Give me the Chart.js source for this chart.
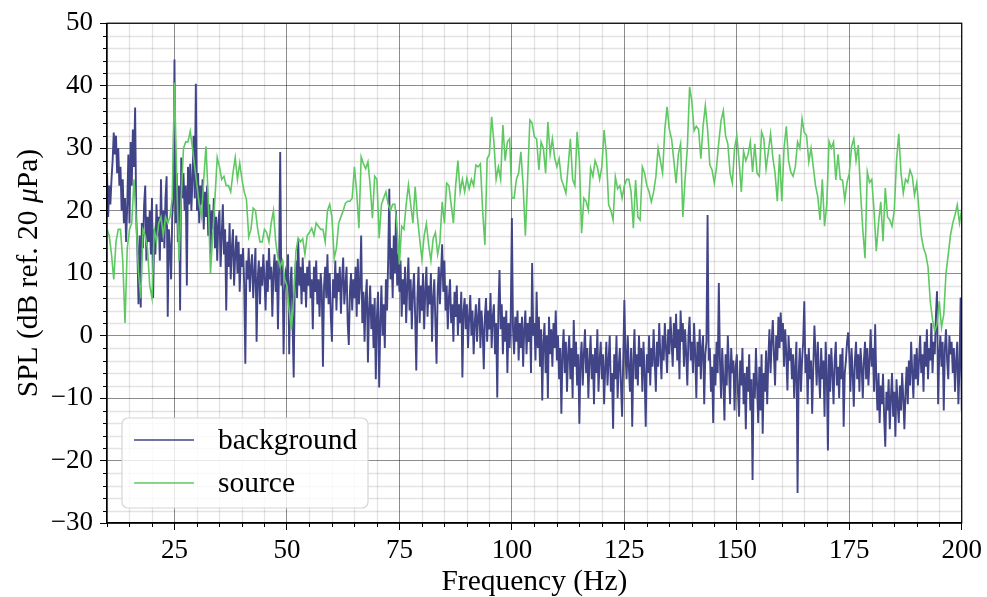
<!DOCTYPE html>
<html><head><meta charset="utf-8">
<script src="https://cdn.jsdelivr.net/npm/chart.js@4.4.1/dist/chart.umd.min.js"></script>
<style>html,body{margin:0;padding:0;background:#fff;}#wrap{width:987px;height:597px;}</style>
</head><body><div id="wrap"><canvas id="c" width="987" height="597"></canvas></div>
<script>
// ---- data ----
const bgStart = 10, bgStep = 0.25;   // Hz sampling of the background spectrum
const background = [
26,19,24,21,25,28,32.5,29,32,26,30,24,27,20,25,18,22,15,21,29,
18,31,24,33,27,36.5,19,14,5,16,4.5,18,14,21,24,12,19,15,20,13,
22,6,17,13,21,16,19,12,25,15,20,14,22,25.5,3,17,14,9,19,22,
44.2,18,26,15,24,4,28.5,22,26,20,24,8,27,21,27.5,20,25,32,22,40.3,
20,26,18,24,21,25,17,23,19,24,16,21,13,20,17,22,14,19,12,18,
20,11,16,21,13,17,4,15,11,18,9,14,17,8,13,16,10,15,7,13,
11,14,8,-4.5,12,9,14,7,11,13,6,10,14,-1,9,12,5,11,8,13,
9,4,12,7,14,9,11,3,10,13,7,12,1,11,29.4,8,12,-3,7,10,
9,13,-3,8,11,2,-6.7,9,12,6,15.5,8,11,5,12.5,7,10,4.5,11,8,
12,6,9,1,11,7,12,5,9,3,10,7,-5,8,11,6,13,5,10,3,
-1,9,6,12,4,10,7,11,3.5,9,12.5,5,8,11,2,-1.5,7,10,4,9,
6,11,3,12.3,5,8,16,2,7,-1,6,9,-4.3,4,8,1,5,-2,6,-7,
3,7,-8.3,2,8,0,5,-2,9,4,12,23.5,9,14,6,16,10,20,8,13,
7,12,3,9,5,11,2,8,12.5,4,9,1,7,10,3,-5.6,6,11,2,8,
4,10,1,7,11,3,8,5,10,-1,6,9,2,-4.5,7,11,5,10,14.6,7,
12,4,8,1,6,9,2,5,-1,7,3,8,0,5,2,7,-6.7,4,6,1,
5,-2,3,6.5,0,4,-3,2,5,-1,3,6,-2,4,1,-5.4,3,6,-1,4,
1,6.8,-2,3,5,-3,2,-9.9,4,10.5,1,5,-3,3,-1,4,-6,2,-2,3,
18.8,1,-3,3,-1,4,-4,2,-2,3,-5,1,4,-3,2,-1,3,-6,11.6,0,
2,-4,7,-2,3,-5,1,-10.4,-1,2,-6,0,-10,3,-3,1,-5,2,-2,4,
-4,0,-7,-2,-12.5,-3,1,-6,-1,-9,-3,0,-7,-2,-10,2.5,-5,-1,-8,-3,
-14.1,-4,-1,-8,-3,1,-6,-2,-10,-4,0,-7,-3,-11,-2,-6,1,-9,-4,-1,
-7,-3,-11,-5,-1,-8,-4,0,-9,-6,-14.9,-3,-7,0,-10,-5,-2,-8,-13,-4,
5.7,-3,-7,0,-5,-9,-2,-14.6,-4,1,-7,-3,-8,0,-5,-2,-9,-1,-6,-14.6,
-3,-6,0,-8,-2,-5,1,-4,-9,-1,-5,2,-3,-7,0,-4,2,-2,-6,1,
-3,3,-1,-5,2,-2,3.5,-4,1,-7,4,-1,2,-5,1,-3,-8,0,3,-4,
-1,-6,2,-3,-10,-1,-5,1,-7,-2,0,-11,-3,-1,19.3,-4,-2,-9,-5,-14,
-3,-8,-1,-6,8.4,-4,-10,-2,-7,-13.6,-3,-8,0,-5,-11,-2,-6,-4,-12,-5,
-3,-9,-13,-4,-8,-2,-11,-6,-15,-5,-9,-3,-12,-7,-23.1,-6,-10,-2,-8,-14,
-5,-12,-3,-15.7,-6,-9,-2.4,-11,-4,1,-6,-1,2.5,-3,-8,0,-4,3,-2,3.7,
-1,2,-5,1,-3,-8.8,0,-4,-2,-7,-3,-10,-5,-1,-25.2,-6,-2,-9,-4,-1,
5.5,-6,-3,-11,-2,-7,-4,-12.5,-5,1.6,-3,-8,-1,-6,-10,-2,-7,-4,-13,-1,
-6,-18.4,-3,-9,-2,-6,-11,-4,-1,-8,-5,-10,-3,-7,-2,-14.6,-6,-4,-1,0.5,
-3,-9,-2,-6,-11.4,-4,-1,-7,-3,-9,-2,-5,-10,-4,-1,-7,-2,-8,-4,1,
-5,-2,-9,1.8,-7,-12,-6,-14,-8,-11,-6.1,-13,-17.8,-9,-12,-7,-15,-10,-6,-13,
-9,-16.2,-7,-11,-14,-8,-12,-6,-10,-15,-9,-5,-11,-4,-8,-1,-6,-10,-3,-7,
-2,-8,-4,0,-6,-3,-9,-1,-5,1,-7,-2,-4,2,-6,-1,-3,3,7.1,-11,
-3,0,-5,-1,-12,-2,1,-4,-7,0,-3,-1,-6,-2,-9,-4,-1,-11,-5,6.1,-12
];
const srcStart = 10, srcStep = 0.5;  // Hz sampling of the source spectrum
const source = [
17,16,13,9,15,17,17,12,2,14,
17,18,25,18,10,6,17,16,14,8,
6,17,15,18,19,16,19,18,19,22,
40.5,25,12,22,30,31,31,32.7,30,27,
24,21,19,25,30.3,22,10,16,22,28.5,
27,25,25.5,24,24,23,26,28.5,25,27.6,
25,23,21.8,15.8,17,20.4,20,17,15,15,
17,16.5,15,18,20,15,12.5,11,12,9,
8,4,1,6,13.5,15.6,15,15.5,13,16,
16.5,17.2,16,18,17.5,17,17,15,20,21,
19,12.4,14,18,19,20,21.2,21.5,21.5,22,
27,23,17.2,28.6,27.5,26.7,27.8,24,18.8,25.5,
25,15.6,21,22,23,21,20,21,21,17,
11.4,17.5,17,21,24.1,21,18,23.8,19,15.5,
12.2,16,17.9,14.5,12,15.5,16.5,13,15,21.4,
18,24.4,24,21,18,24,28,23,25,23,
25.2,23.5,25,24,27.3,27,27.5,20,14.5,28.3,
29,35,31,25,27,25,33.7,28,31,31.5,
22,22,25,26,29.4,24,16,25,34.5,34,
31.8,31.5,26.5,31,30,26,34.2,29,31.5,28.5,
27,28.3,25,24,22.8,27,31.5,25,24,32.6,
28,16.4,22,21.5,20.1,26.8,25.5,28,27,25,
27,32.9,29,21,20,18.5,25.4,23.5,24,22,
24,25,25,23,17.2,24.9,19,18.5,27,26,
24,23,21.4,23,25.4,30,28,26,33,36.6,
33,31.5,28,24.4,29,30.7,19,25,30,39.8,
37.5,32.8,33.5,33,28.3,33.5,36.8,33,27.3,26.5,
24.4,27,31,34.4,36,32,30.7,26,24.4,30,
32,28,23,29.5,28,29,31,26.2,30.7,26,
25.5,32.6,31.5,26.7,29.4,32.3,28.5,26,21.5,29,
21.5,30,33.5,28,26.2,25.5,27,31,30,34.7,
32.5,32,27.8,30,27,24,22.2,18.5,25,17.5,
21,31.1,30,31,24.9,29,25,24.9,21.7,24.5,
26,30.2,31.5,28,30.5,23,17,12.4,26.2,24.5,
25,20,13.5,18,21.4,15.1,23.6,19,18.5,17.5,
20,28,32.3,26,22.8,25,24.5,26.5,25.5,22.5,
24.4,20,16,14,13,11,5.5,2.5,0.7,1.8,
5.5,1.3,3.4,10,13,16.1,18,19.3,20.9,18,
20.2
];
const seriesNames = ['background', 'source'];
const seriesColors = ['#414487', '#5ec962'];
const xMajorTicks = [25, 50, 75, 100, 125, 150, 175, 200];
const yMajorTicks = [-30, -20, -10, 0, 10, 20, 30, 40, 50];
const xRange = [10, 200], yRange = [-30, 50];
const xMinorStep = 5, yMinorStep = 2;
const xTitle = 'Frequency (Hz)';
const yTitleParts = ['SPL (dB ref. 20 ', '\u03bc', 'Pa)'];

// ---- chart ----
const FONT = '"Liberation Serif","Times New Roman",serif';
const TICK_SIZE = 27, LABEL_SIZE = 29.5;

function toPts(arr, start, step){ return arr.map((v,i)=>({x:start+i*step, y:v})); }
function fmt(v){ return v < 0 ? '\u2212' + Math.abs(v) : String(v); }

function line(ctx,x1,y1,x2,y2){ ctx.beginPath(); ctx.moveTo(x1,y1); ctx.lineTo(x2,y2); ctx.stroke(); }

const deco = {
  id: 'deco',
  beforeDraw(chart){
    const {ctx, chartArea:a, scales:{x, y}} = chart;
    ctx.save();
    ctx.lineWidth = 1.3;
    ctx.strokeStyle = 'rgba(0,0,0,0.11)';
    for (let v = xRange[0]; v <= xRange[1]; v += xMinorStep){
      if (xMajorTicks.includes(v)) continue;
      const px = Math.round(x.getPixelForValue(v)) + 0.5;
      line(ctx, px, a.top, px, a.bottom);
    }
    for (let v = yRange[0]; v <= yRange[1]; v += yMinorStep){
      if (yMajorTicks.includes(v)) continue;
      const py = Math.round(y.getPixelForValue(v)) + 0.5;
      line(ctx, a.left, py, a.right, py);
    }
    // minor tick marks
    ctx.lineWidth = 1;
    ctx.strokeStyle = '#000';
    for (let v = xRange[0]; v <= xRange[1]; v += xMinorStep){
      if (xMajorTicks.includes(v)) continue;
      const px = Math.round(x.getPixelForValue(v)) + 0.5;
      line(ctx, px, a.bottom, px, a.bottom + 4);
    }
    for (let v = yRange[0]; v <= yRange[1]; v += yMinorStep){
      if (yMajorTicks.includes(v)) continue;
      const py = Math.round(y.getPixelForValue(v)) + 0.5;
      line(ctx, a.left - 4, py, a.left, py);
    }
    ctx.restore();
  },
  afterDatasetsDraw(chart){
    const {ctx, chartArea:a} = chart;
    ctx.save();
    ctx.strokeStyle = '#000';
    ctx.lineWidth = 1.2;
    ctx.strokeRect(a.left, a.top, a.right - a.left, a.bottom - a.top);
    ctx.restore();
  },
  afterDraw(chart){
    const {ctx, chartArea:a} = chart;
    ctx.save();
    // legend
    const lx = 122, ly = 418, lw = 246, lh = 90, r = 6;
    ctx.beginPath();
    ctx.moveTo(lx + r, ly);
    ctx.arcTo(lx + lw, ly, lx + lw, ly + lh, r);
    ctx.arcTo(lx + lw, ly + lh, lx, ly + lh, r);
    ctx.arcTo(lx, ly + lh, lx, ly, r);
    ctx.arcTo(lx, ly, lx + lw, ly, r);
    ctx.closePath();
    ctx.fillStyle = 'rgba(255,255,255,0.8)';
    ctx.fill();
    ctx.strokeStyle = '#d6d6d6';
    ctx.lineWidth = 1.2;
    ctx.stroke();
    const rows = [440, 483];
    ctx.font = LABEL_SIZE + 'px ' + FONT;
    ctx.textBaseline = 'middle';
    ctx.textAlign = 'left';
    seriesNames.forEach((n, i) => {
      ctx.strokeStyle = seriesColors[i];
      ctx.lineWidth = 1.6;
      line(ctx, 134, rows[i], 194, rows[i]);
      ctx.fillStyle = '#000';
      ctx.fillText(n, 218, rows[i] + 1);
    });
    // axis titles
    ctx.fillStyle = '#000';
    ctx.textAlign = 'center';
    ctx.textBaseline = 'alphabetic';
    ctx.fillText(xTitle, (a.left + a.right) / 2, 590);
    // y title with italic mu
    const normal = LABEL_SIZE + 'px ' + FONT, ital = 'italic ' + LABEL_SIZE + 'px ' + FONT;
    const fonts = [normal, ital, normal];
    const widths = yTitleParts.map((t, i) => { ctx.font = fonts[i]; return ctx.measureText(t).width; });
    const total = widths.reduce((s, w) => s + w, 0);
    ctx.translate(37, (a.top + a.bottom) / 2);
    ctx.rotate(-Math.PI / 2);
    ctx.textAlign = 'left';
    let cx = -total / 2;
    yTitleParts.forEach((t, i) => { ctx.font = fonts[i]; ctx.fillText(t, cx, 0); cx += widths[i]; });
    ctx.restore();
  }
};

new Chart(document.getElementById('c').getContext('2d'), {
  type: 'line',
  data: {
    datasets: [
      { label: seriesNames[0], data: toPts(background, bgStart, bgStep), borderColor: seriesColors[0],
        borderWidth: 1.9, pointRadius: 0, tension: 0, order: 2 },
      { label: seriesNames[1], data: toPts(source, srcStart, srcStep), borderColor: seriesColors[1],
        borderWidth: 1.6, pointRadius: 0, tension: 0, order: 1 }
    ]
  },
  options: {
    responsive: false, animation: false, devicePixelRatio: 1,
    layout: { padding: { top: 21, right: 25, left: 0, bottom: 0 } },
    plugins: { legend: { display: false }, tooltip: { enabled: false } },
    scales: {
      x: {
        type: 'linear', min: xRange[0], max: xRange[1],
        afterBuildTicks: s => { s.ticks = xMajorTicks.map(v => ({ value: v })); },
        afterFit: s => { s.height = 74; },
        grid: { color: 'rgba(0,0,0,0.45)', lineWidth: 1, tickLength: 7, tickColor: '#000', tickWidth: 1 },
        border: { display: true, color: '#000', width: 1.2 },
        ticks: { font: { family: FONT, size: TICK_SIZE }, color: '#000', padding: 5, maxRotation: 0, autoSkip: false,
                 callback: v => fmt(v) }
      },
      y: {
        type: 'linear', min: yRange[0], max: yRange[1],
        afterBuildTicks: s => { s.ticks = yMajorTicks.map(v => ({ value: v })); },
        afterFit: s => { s.width = 107; },
        grid: { color: 'rgba(0,0,0,0.45)', lineWidth: 1, tickLength: 7, tickColor: '#000', tickWidth: 1 },
        border: { display: true, color: '#000', width: 1.2 },
        ticks: { font: { family: FONT, size: TICK_SIZE }, color: '#000', padding: 7, autoSkip: false,
                 callback: v => fmt(v) }
      }
    }
  },
  plugins: [deco]
});
</script>
</body></html>
